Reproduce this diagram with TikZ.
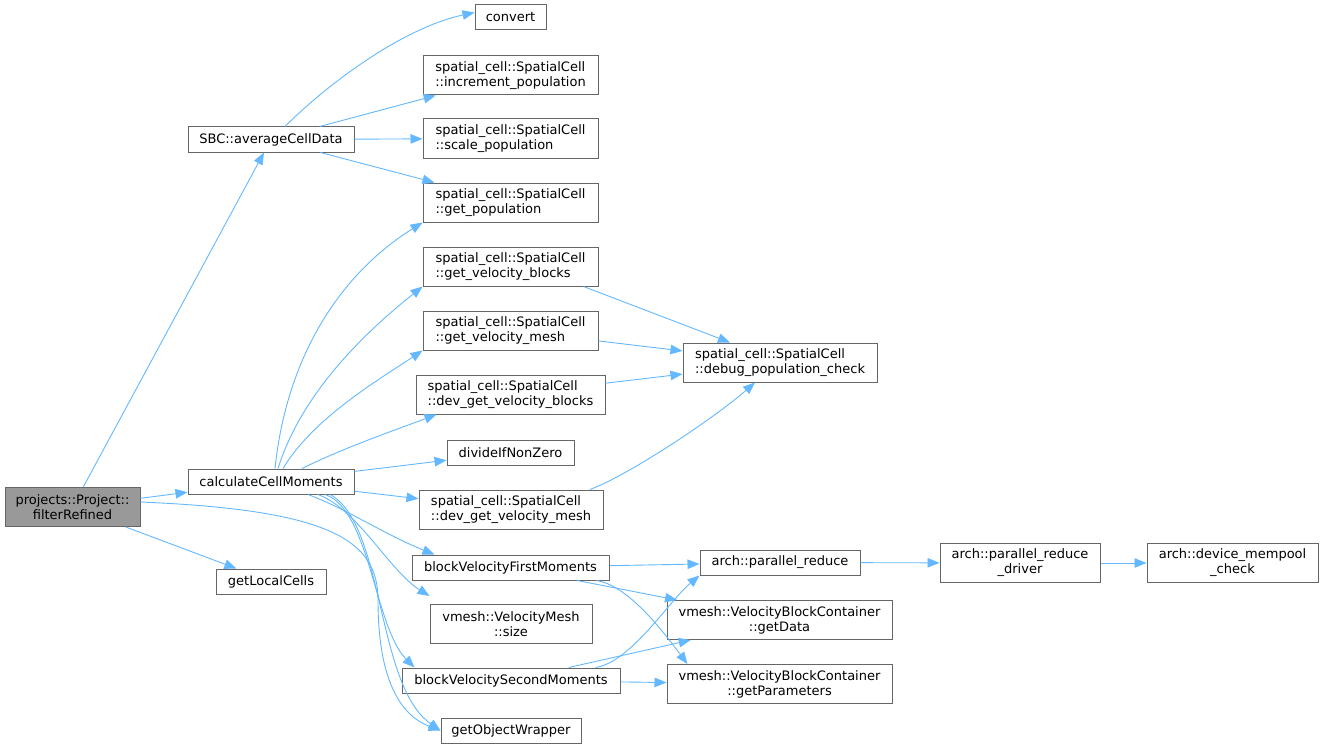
\documentclass[tikz,border=0pt]{standalone}
\usepackage{fontspec}
\setmainfont{DejaVu Sans}
\usetikzlibrary{arrows.meta,positioning}
\definecolor{edgeblue}{HTML}{63B8FF}
\definecolor{boxgray}{HTML}{666666}
\definecolor{selgray}{HTML}{999999}
\tikzstyle{func} = [draw=boxgray,line width=1pt,fill=white,inner sep=0pt,minimum height=25pt,align=center,font=\fontsize{13}{15}\selectfont]
\tikzstyle{func2} = [func,minimum height=39pt]
\tikzstyle{member} = [func2,align=left]
\tikzstyle{arrow} = [draw=edgeblue,line width=0.9pt,-{Triangle[length=12pt,width=9.5pt]}]

\begin{document}
\begin{tikzpicture}[x=1pt,y=-1pt]
\useasboundingbox (0,0) rectangle (1324,749);

\node[func2,fill=selgray,minimum width=135] (filter) at (72.5,507) {projects::Project::\\filterRefined};
\node[func,minimum width=166] (avg) at (271,139.5) {SBC::averageCellData};
\node[func,minimum width=166] (calc) at (271,481.5) {calculateCellMoments};
\node[func,minimum width=110] (local) at (271,581.5) {getLocalCells};

\node[func,minimum width=71] (convert) at (510.5,17.5) {convert};
\node[member,minimum width=175] (incpop) at (510.5,75.5) {spatial\_cell::SpatialCell\\::increment\_population};
\node[member,minimum width=175] (scalepop) at (510.5,138.5) {spatial\_cell::SpatialCell\\::scale\_population};
\node[member,minimum width=175] (getpop) at (510.5,202.5) {spatial\_cell::SpatialCell\\::get\_population};
\node[member,minimum width=175] (getvb) at (510.5,266.5) {spatial\_cell::SpatialCell\\::get\_velocity\_blocks};
\node[member,minimum width=175] (getvm) at (510.5,330.5) {spatial\_cell::SpatialCell\\::get\_velocity\_mesh};
\node[member,minimum width=189] (devvb) at (510.5,394.5) {spatial\_cell::SpatialCell\\::dev\_get\_velocity\_blocks};
\node[func,minimum width=127] (divide) at (510.5,452.5) {divideIfNonZero};
\node[member,minimum width=184] (devvm) at (511,509.5) {spatial\_cell::SpatialCell\\::dev\_get\_velocity\_mesh};
\node[func,minimum width=197] (firstmom) at (510.5,567.5) {blockVelocityFirstMoments};
\node[func2,minimum width=162] (vmsize) at (511,624) {vmesh::VelocityMesh\\::size};
\node[func,minimum width=218] (secondmom) at (511,680.5) {blockVelocitySecondMoments};
\node[func,minimum width=140] (wrapper) at (511,730.5) {getObjectWrapper};

\node[member,minimum width=194] (debug) at (780,362.5) {spatial\_cell::SpatialCell\\::debug\_population\_check};
\node[func,minimum width=160] (preduce) at (780,562.5) {arch::parallel\_reduce};
\node[func2,minimum width=225] (getdata) at (779.5,620) {vmesh::VelocityBlockContainer\\::getData};
\node[func2,minimum width=225] (getparams) at (779.5,684) {vmesh::VelocityBlockContainer\\::getParameters};
\node[func2,minimum width=160] (driver) at (1020,563) {arch::parallel\_reduce\\\_driver};
\node[func2,minimum width=171] (mempool) at (1232.5,563) {arch::device\_mempool\\\_check};

\coordinate (turn) at (378,600);

\draw[arrow] (filter) -- (avg);
\draw[arrow] (filter) -- (calc);
\draw[arrow] (filter) -- (local);
\draw[arrow] ([yshift=5]filter.east) .. controls +(190,8) and +(0,-60) .. (turn) .. controls +(0,80) and +(-40,-15) .. (wrapper.west);

\draw[arrow] ([xshift=14]avg.north) .. controls +(45,-45) and +(-70,15) .. ([yshift=5]convert.west);
\draw[arrow] (avg) -- (incpop);
\draw[arrow] (avg) -- (scalepop);
\draw[arrow] (avg) -- (getpop);

\draw[arrow] ([xshift=4]calc.north) .. controls +(12,-115) and +(-80,50) .. (getpop.south west);
\draw[arrow] ([xshift=7]calc.north) .. controls +(25,-80) and +(-50,40) .. (getvb.south west);
\draw[arrow] ([xshift=12]calc.north) .. controls +(30,-50) and +(-45,30) .. (getvm.south west);
\draw[arrow] ([xshift=31]calc.north) .. controls +(40,-20) and +(-40,15) .. ([xshift=21]devvb.south west);
\draw[arrow] (calc) -- (divide);
\draw[arrow] (calc) -- (devvm);
\draw[arrow] ([xshift=37]calc.south) .. controls +(40,15) and +(-50,-20) .. ([xshift=23]firstmom.north west);
\draw[arrow] ([xshift=47]calc.south) .. controls +(40,15) and +(-40,-25) .. ([yshift=8]vmsize.north west);
\draw[arrow] ([xshift=54]calc.south) .. controls +(45,15) and +(-40,-40) .. ([xshift=13]secondmom.north west);
\draw[arrow] ([xshift=59]calc.south) .. controls +(55,30) and +(-65,-45) .. (wrapper.west);

\draw[arrow] ([xshift=-15]getvb.south east) -- ([xshift=-50]debug.north);
\draw[arrow] (getvm) -- (debug);
\draw[arrow] (devvb) -- (debug);
\draw[arrow] ([xshift=79]devvm.north) .. controls +(40,-15) and +(-40,35) .. ([xshift=-25]debug.south);

\draw[arrow] (firstmom) -- (preduce);
\draw[arrow] (firstmom) -- (getdata);
\draw[arrow] ([xshift=-13]firstmom.south east) .. controls +(30,5) and +(-30,-40) .. ([xshift=21]getparams.north west);
\draw[arrow] ([xshift=-25]secondmom.north east) .. controls +(35,-5) and +(-30,25) .. (preduce.south west);
\draw[arrow] (secondmom) -- (getdata);
\draw[arrow] (secondmom) -- (getparams);

\draw[arrow] (preduce) -- (driver);
\draw[arrow] (driver) -- (mempool);
\end{tikzpicture}
\end{document}
